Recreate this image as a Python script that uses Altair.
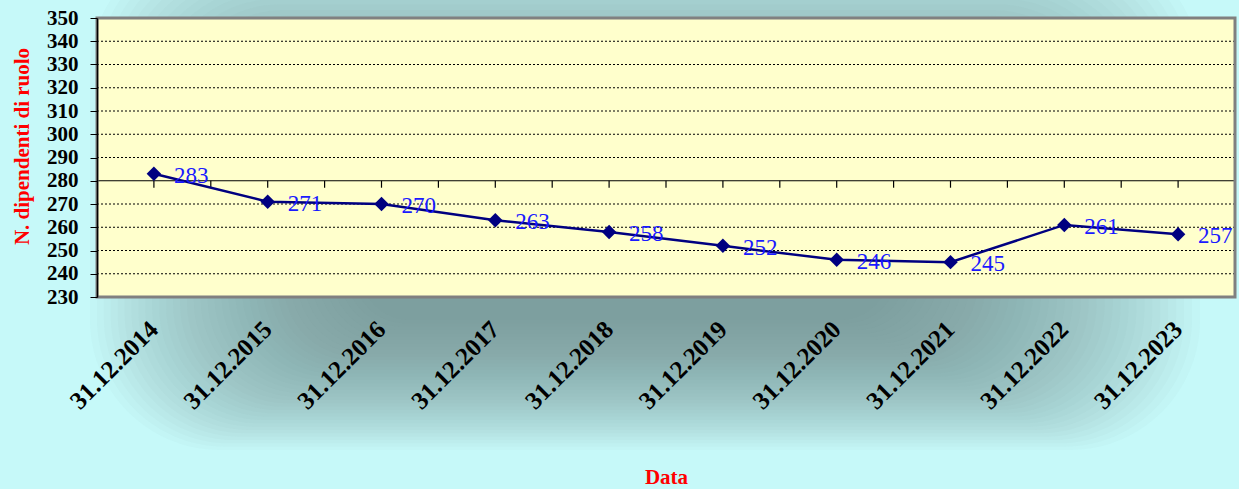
import altair as alt
import pandas as pd

# Staff on payroll at the end of each year
dates = ["31.12.2014", "31.12.2015", "31.12.2016", "31.12.2017", "31.12.2018",
         "31.12.2019", "31.12.2020", "31.12.2021", "31.12.2022", "31.12.2023"]
staff = [283, 271, 270, 263, 258, 252, 246, 245, 261, 257]

y_ticks = list(range(230, 351, 10))
grid_values = [v for v in y_ticks if v not in (230, 280)]
axis_cross = 280          # the category axis crosses the value axis here
tick_drop = 3             # length of the category ticks, in value units

W, H = 1138, 279
PAD = {"left": 97, "top": 18, "right": 4, "bottom": 192}

SERIF = "Liberation Serif"
NAVY = "#000080"

df = pd.DataFrame({"data": dates, "dipendenti": staff})
one_row = alt.Data(values=[{}])

x_scale = alt.Scale(type="band", domain=dates, paddingInner=0, paddingOuter=0)
y_scale = alt.Scale(domain=[230, 350], nice=False, zero=False)

x_axis = alt.Axis(
    title="Data", titleColor="#FF0000", titleFont=SERIF, titleFontSize=21,
    titleFontWeight="bold", titleY=190, titleBaseline="bottom",
    labelAngle=-45, labelAlign="right", labelBaseline="middle",
    labelFont=SERIF, labelFontSize=25, labelFontWeight="bold", labelColor="black",
    labelPadding=28, labelOverlap=False, ticks=False, domain=False, grid=False,
    zindex=1,
)
y_axis = alt.Axis(
    title="N. dipendenti di ruolo", titleColor="#FF0000", titleFont=SERIF,
    titleFontSize=21, titleFontWeight="bold", titleX=-75, titleY=128,
    titleAngle=270, titleAlign="center", titleBaseline="middle",
    values=y_ticks, tickCount=len(y_ticks), labelFont=SERIF, labelFontSize=21,
    labelFontWeight="bold", labelColor="black", labelPadding=12,
    labelOverlap=False, labelFlush=False, tickSize=7, tickColor="black",
    domainColor="black", domainWidth=1.5, grid=False, zindex=1,
)


def xcat(**kw):
    return alt.X("data:N", scale=x_scale, axis=x_axis, **kw)


def yval(field):
    return alt.Y(field, scale=y_scale, axis=y_axis)


# Soft dark glow behind the plot: many nested rounded rectangles of low opacity
outer = (90 - PAD["left"], -60 - PAD["top"], 1200 - PAD["left"], 450 - PAD["top"])
inner = (360 - PAD["left"], 150 - PAD["top"], 890 - PAD["left"], 320 - PAD["top"])
n_glow = 40
glow_layers = []
for i in range(n_glow):
    t = i / (n_glow - 1)
    x1, y1, x2, y2 = (o + (n - o) * t for o, n in zip(outer, inner))
    glow_layers.append(
        alt.Chart(one_row).mark_rect(
            color="#648787", opacity=0.034, cornerRadius=130 - 80 * t
        ).encode(
            x=alt.value(x1), x2=alt.value(x2), y=alt.value(y1), y2=alt.value(y2)
        )
    )

plot_fill = alt.Chart(one_row).mark_rect(color="#FFFFCC").encode(
    x=alt.value(0), x2=alt.value(W), y=alt.value(0), y2=alt.value(H)
)
plot_frame = alt.Chart(one_row).mark_rect(
    fill=None, stroke="#808080", strokeWidth=3
).encode(x=alt.value(0), x2=alt.value(W), y=alt.value(0), y2=alt.value(H))

base = alt.Chart(df)

grid = alt.Chart(pd.DataFrame({"v": grid_values})).mark_rule(
    color="black", strokeWidth=1, strokeDash=[2, 2]
).encode(y=yval("v:Q"))

cross_line = alt.Chart(pd.DataFrame({"v": [axis_cross]})).mark_rule(
    color="black", strokeWidth=1.2
).encode(y=yval("v:Q"))


def category_ticks(data, band_position):
    return data.transform_calculate(
        top=f"{axis_cross}", bottom=f"{axis_cross - tick_drop}"
    ).mark_rule(color="black", strokeWidth=1.2).encode(
        x=xcat(bandPosition=band_position),
        y=yval("top:Q"),
        y2="bottom:Q",
    )


ticks_mid = category_ticks(base, 0.5)
ticks_edge = category_ticks(base, 0)
ticks_end = category_ticks(base.transform_filter(alt.datum.data == dates[-1]), 1)

line = base.mark_line(color=NAVY, strokeWidth=2.5).encode(
    x=xcat(), y=yval("dipendenti:Q"),
)
points = base.mark_point(
    shape="diamond", filled=True, size=210, color=NAVY, opacity=1
).encode(x=xcat(), y=yval("dipendenti:Q"))
labels = base.mark_text(
    align="left", baseline="middle", dx=20, dy=2,
    font=SERIF, fontSize=23, color="#1a1aff",
).encode(
    x=xcat(), y=yval("dipendenti:Q"), text=alt.Text("dipendenti:Q"),
)

chart = alt.layer(
    *glow_layers, plot_fill, grid, cross_line, ticks_mid, ticks_edge, ticks_end,
    plot_frame, line, points, labels,
).properties(
    width=W, height=H, padding=PAD,
    autosize=alt.AutoSizeParams(type="none"),
    background="#C6F9F9",
).configure_view(stroke=None)

chart.save("out.html", embed_options={"renderer": "svg", "actions": False})
